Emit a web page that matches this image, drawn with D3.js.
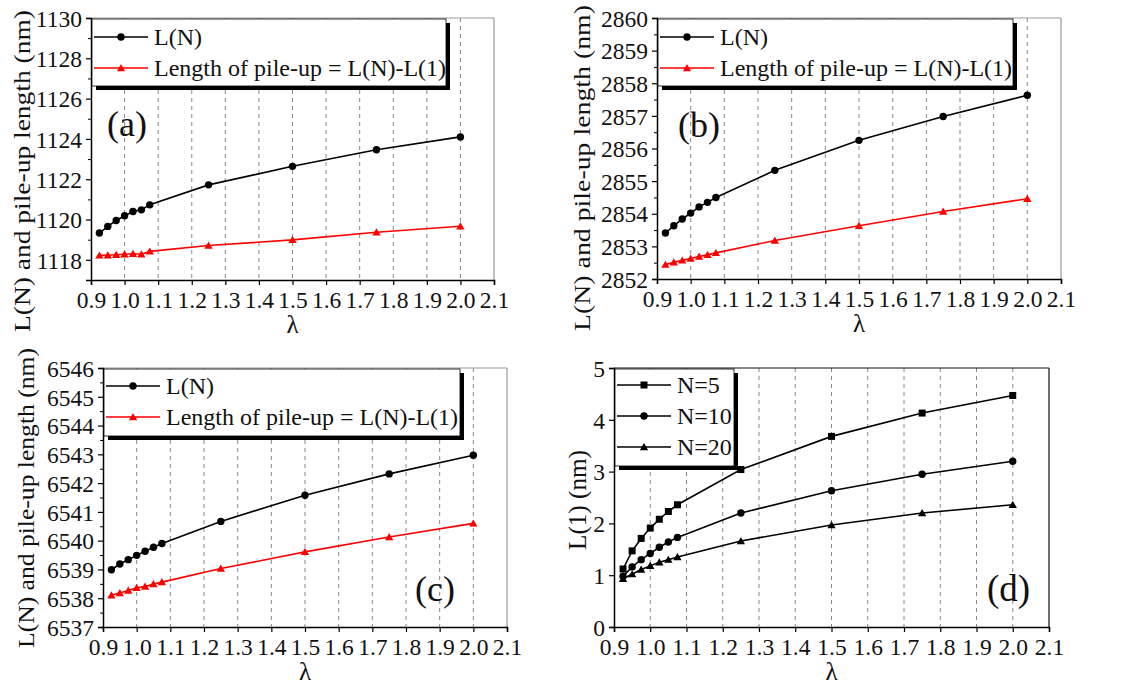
<!DOCTYPE html>
<html><head><meta charset="utf-8">
<script src="https://cdn.jsdelivr.net/npm/d3@7"></script>
<style>
body{margin:0;background:#fff;}
text{font-family:"Liberation Serif","Times New Roman",serif;}
</style></head>
<body><svg id="c" width="1121" height="691" font-family="Liberation Serif"></svg>
<script>
// ---------- data ----------
const lambdaVals = [0.925,0.95,0.975,1.0,1.025,1.05,1.075,1.25,1.5,1.75,2.0];
const xTickVals = [0.9,1.0,1.1,1.2,1.3,1.4,1.5,1.6,1.7,1.8,1.9,2.0,2.1];

const aLN   = [1119.33,1119.66,1119.95,1120.19,1120.4,1120.48,1120.73,1121.72,1122.64,1123.46,1124.1];
const aPile = [1118.22,1118.23,1118.25,1118.28,1118.3,1118.28,1118.42,1118.71,1118.99,1119.37,1119.67];
const aYTicks = [1118,1120,1122,1124,1126,1128,1130];

const bLN   = [2853.41,2853.63,2853.84,2854.02,2854.21,2854.35,2854.5,2855.33,2856.25,2856.98,2857.63];
const bPile = [2852.44,2852.51,2852.57,2852.63,2852.69,2852.74,2852.8,2853.18,2853.63,2854.07,2854.46];
const bYTicks = [2852,2853,2854,2855,2856,2857,2858,2859,2860];

const cLN   = [6538.99,6539.19,6539.34,6539.49,6539.63,6539.77,6539.9,6540.67,6541.58,6542.32,6542.97];
const cPile = [6538.1,6538.18,6538.27,6538.36,6538.41,6538.49,6538.56,6539.03,6539.61,6540.13,6540.6];
const cYTicks = [6537,6538,6539,6540,6541,6542,6543,6544,6545,6546];

const dN5  = [1.12,1.47,1.71,1.91,2.08,2.23,2.36,3.04,3.68,4.13,4.47];
const dN10 = [0.98,1.16,1.3,1.42,1.54,1.64,1.73,2.2,2.63,2.95,3.2];
const dN20 = [0.93,1.02,1.11,1.18,1.25,1.3,1.35,1.66,1.97,2.2,2.36];
const dYTicks = [0,1,2,3,4,5];

const legendLN = "L(N)";
const legendPile = "Length of pile-up = L(N)-L(1)";
const yTitleABC = "L(N) and pile-up length (nm)";
const yTitleD = "L(1) (nm)";
const xTitle = "λ";

// ---------- drawing ----------
const FONT = "Liberation Serif";
const FONTQ = '"Liberation Serif"';
const svg = d3.select("#c");

const panels = [
  {l:91,t:18,r:494,b:280,dom:[1117,1130],ticks:aYTicks,minor:[1117,1119,1121,1123,1125,1127,1129],
   series:[{v:aLN,c:"#000",m:"circle",name:legendLN},{v:aPile,c:"#ff0000",m:"triangle",name:legendPile}],
   leg:{x:92,y:19,w:354,h:67,line:54,rowH:31,first:18},label:"(a)",lx:107,ly:136,ls:36,
   yTitle:yTitleABC,ytx:22,yty:171,ytl:322,yts:23.5,frame:"#999"},
  {l:657,t:18,r:1061,b:279,dom:[2852,2860],ticks:bYTicks,minor:d3.range(2852.5,2860,1),
   series:[{v:bLN,c:"#000",m:"circle",name:legendLN},{v:bPile,c:"#ff0000",m:"triangle",name:legendPile}],
   leg:{x:658,y:19,w:355,h:67,line:54,rowH:31,first:18},label:"(b)",lx:678,ly:137,ls:36,
   yTitle:yTitleABC,ytx:582,yty:168,ytl:326,yts:23.5,frame:"#999"},
  {l:103,t:368,r:507,b:627,dom:[6537,6546],ticks:cYTicks,minor:d3.range(6537.5,6546,1),
   series:[{v:cLN,c:"#000",m:"circle",name:legendLN},{v:cPile,c:"#ff0000",m:"triangle",name:legendPile}],
   leg:{x:104,y:369,w:356,h:67,line:54,rowH:31,first:17},label:"(c)",lx:415,ly:601,ls:36,
   yTitle:yTitleABC,ytx:26,yty:498,ytl:300,yts:23.5,frame:"#999"},
  {l:614,t:368,r:1049,b:627,dom:[0,5],ticks:dYTicks,minor:[],
   series:[{v:dN5,c:"#000",m:"square",name:"N=5"},{v:dN10,c:"#000",m:"circle",name:"N=10"},{v:dN20,c:"#000",m:"triangle",name:"N=20"}],
   leg:{x:615,y:369,w:119,h:97,line:54,rowH:31,first:16},label:"(d)",lx:987,ly:601,ls:37,
   yTitle:yTitleD,ytx:577,yty:500,ytl:100,yts:25,frame:"#111"}
];

function marker(g, type, x, y, color){
  if(type==="circle") g.append("circle").attr("cx",x).attr("cy",y).attr("r",3.7).attr("fill",color);
  else if(type==="square") g.append("rect").attr("x",x-3.5).attr("y",y-3.5).attr("width",7).attr("height",7).attr("fill",color);
  else g.append("path").attr("d",d3.symbol(d3.symbolTriangle, 30)()).attr("transform",`translate(${x},${y+0.8})`).attr("fill",color);
}
function setFont(sel){ return sel.attr("font-family",FONT).style("font-family",FONTQ); }
function txt(g){ return setFont(g.append("text")).attr("fill","#111"); }

panels.forEach(p=>{
  const x = d3.scaleLinear().domain([0.9,2.1]).range([p.l,p.r]);
  const y = d3.scaleLinear().domain(p.dom).range([p.b,p.t]);
  const g = svg.append("g");

  // grid
  g.append("g").selectAll("line").data(xTickVals.filter(v=>v>0.95 && v<2.05)).join("line")
    .attr("x1",d=>x(d)).attr("x2",d=>x(d)).attr("y1",p.t).attr("y2",p.b)
    .attr("stroke","#888").attr("stroke-width",1).attr("stroke-dasharray","4,4");

  // frame top/right
  g.append("line").attr("x1",p.l).attr("x2",p.r).attr("y1",p.t).attr("y2",p.t).attr("stroke",p.frame).attr("stroke-width",1.2);
  g.append("line").attr("x1",p.r).attr("x2",p.r).attr("y1",p.t).attr("y2",p.b).attr("stroke",p.frame).attr("stroke-width",1.2);

  // axes
  const xa = g.append("g").attr("transform",`translate(0,${p.b})`)
    .call(d3.axisBottom(x).tickValues(xTickVals).tickFormat(d3.format(".1f")).tickSize(5).tickPadding(6));
  const ya = g.append("g").attr("transform",`translate(${p.l},0)`)
    .call(d3.axisLeft(y).tickValues(p.ticks).tickFormat(d3.format("d")).tickSize(5).tickPadding(4));
  if(p.minor.length){
    g.append("g").attr("transform",`translate(${p.l},0)`)
     .call(d3.axisLeft(y).tickValues(p.minor).tickFormat("").tickSize(3))
     .call(s=>s.select(".domain").remove());
  }
  [xa,ya].forEach(a=>{
    setFont(a).attr("font-size",23.5);
    a.select(".domain").attr("stroke","#000").attr("stroke-width",1.5);
    a.selectAll(".tick line").attr("stroke","#000").attr("stroke-width",1.2);
    setFont(a.selectAll("text")).style("font-size","23.5px").attr("fill","#111");
  });
  xa.selectAll("text").attr("dy","0.74em");
  ya.selectAll("text").attr("dy","0.35em");

  // axis titles
  txt(g).attr("x",(p.l+p.r)/2).attr("y",p.b+53).attr("text-anchor","middle")
    .style("font-size","25px").text(xTitle);
  txt(g).attr("transform",`translate(${p.ytx},${p.yty}) rotate(-90)`)
    .attr("text-anchor","middle").attr("dy","0.35em").style("font-size",p.yts+"px")
    .attr("textLength",p.ytl).attr("lengthAdjust","spacingAndGlyphs").text(p.yTitle);

  // series
  const line = d3.line().x((d,i)=>x(lambdaVals[i])).y(d=>y(d));
  p.series.forEach(s=>{
    g.append("path").datum(s.v).attr("d",line).attr("fill","none").attr("stroke",s.c).attr("stroke-width",1.6);
    s.v.forEach((v,i)=>marker(g,s.m,x(lambdaVals[i]),y(v),s.c));
  });

  // legend
  const L = p.leg;
  g.append("rect").attr("x",L.x+4).attr("y",L.y+4).attr("width",L.w).attr("height",L.h).attr("fill","#000");
  g.append("rect").attr("x",L.x).attr("y",L.y).attr("width",L.w).attr("height",L.h).attr("fill","#fff").attr("stroke","#000").attr("stroke-width",0.8);
  p.series.forEach((s,i)=>{
    const yy = L.y+L.first+i*L.rowH;
    g.append("line").attr("x1",L.x+2).attr("x2",L.x+2+L.line).attr("y1",yy).attr("y2",yy).attr("stroke",s.c).attr("stroke-width",1.6);
    marker(g,s.m,L.x+2+L.line/2,yy,s.c);
    txt(g).attr("x",L.x+L.line+8).attr("y",yy).attr("dy","0.35em").style("font-size","24px").text(s.name);
  });

  // panel label
  txt(g).attr("x",p.lx).attr("y",p.ly).style("font-size",p.ls+"px").text(p.label);
});
</script></body></html>
